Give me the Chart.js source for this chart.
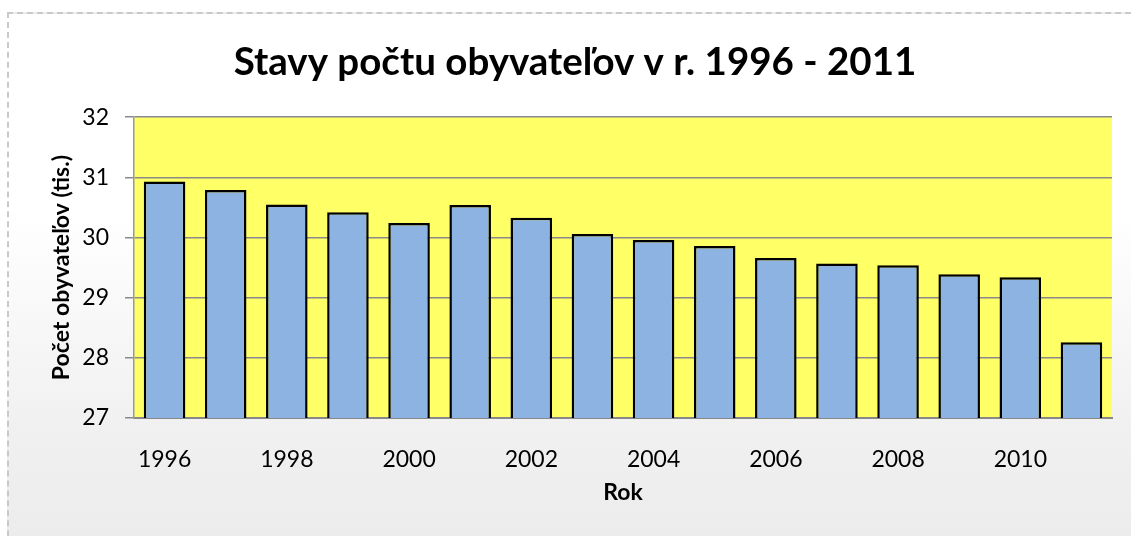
<!DOCTYPE html>
<html>
<head>
<meta charset="utf-8">
<script src="https://cdn.jsdelivr.net/npm/chart.js@4/dist/chart.umd.min.js"></script>
<style>
  html, body { margin: 0; padding: 0; width: 1131px; height: 536px; overflow: hidden; background: #fff; }
  #frame {
    position: absolute; left: 7px; top: 12px; width: 1200px; height: 600px;
    border: 2px dashed #c9c9c9;
    background: linear-gradient(to bottom, #ffffff 0px, #ffffff 200px, #f0f0f0 420px, #ececec 524px);
  }
  #wrap { position: absolute; left: 0; top: 0; width: 1131px; height: 536px; }
</style>
</head>
<body>
<div id="frame"></div>
<div id="wrap"><canvas id="popChart" width="1131" height="536"></canvas></div>
<script>
/* =========================
   DATA
========================= */
const years = ["1996", "1997", "1998", "1999", "2000", "2001", "2002", "2003",
               "2004", "2005", "2006", "2007", "2008", "2009", "2010", "2011"];
const population = [30.93, 30.79, 30.55, 30.42, 30.24, 30.54, 30.33, 30.06,
                    29.96, 29.86, 29.66, 29.57, 29.54, 29.39, 29.34, 28.26];
const yTicks = [27, 28, 29, 30, 31, 32];

const FONT = "Lato, 'Liberation Sans', sans-serif";

/* =========================
   PLOT AREA BACKGROUND
========================= */
const plotBg = {
  id: "plotBg",
  beforeDraw(chart) {
    const { ctx, chartArea: a } = chart;
    ctx.save();
    ctx.fillStyle = "#ffff66";
    ctx.fillRect(a.left, a.top, a.right - a.left, a.bottom - a.top);
    ctx.restore();
  }
};

/* =========================
   CHART
========================= */
new Chart(document.getElementById("popChart"), {
  type: "bar",
  data: {
    labels: years,
    datasets: [{
      data: population,
      backgroundColor: "#8db3e2",
      borderColor: "#000000",
      borderWidth: 2.5,
      barPercentage: 0.68,
      categoryPercentage: 1
    }]
  },
  options: {
    responsive: false,
    animation: false,
    layout: { padding: { left: 38, right: 19, top: 0, bottom: 0 } },
    plugins: {
      legend: { display: false },
      tooltip: { enabled: false },
      title: {
        display: true,
        text: "Stavy počtu obyvateľov v r. 1996 - 2011",
        color: "#000",
        font: { family: FONT, size: 38.5, weight: "bold", lineHeight: 1.2 },
        padding: { top: 39, bottom: 32 }
      }
    },
    scales: {
      x: {
        afterFit(s) { s.height = 118; },
        grid: { display: false },
        border: { display: true, color: "#888888", width: 2 },
        ticks: {
          autoSkip: false,
          maxRotation: 0,
          padding: 20,
          color: "#000",
          font: { family: FONT, size: 23 },
          callback(v, i) { return i % 2 === 0 ? years[i] : ""; }
        },
        title: {
          display: true,
          text: "Rok",
          color: "#000",
          font: { family: FONT, size: 23, weight: "bold", lineHeight: 1.2 },
          padding: { top: 0, bottom: 30 }
        }
      },
      y: {
        min: 27,
        max: 32,
        afterFit(s) { s.width = 96; },
        afterBuildTicks(s) { s.ticks = yTicks.map(v => ({ value: v })); },
        grid: { color: "#8a8a8a", lineWidth: 1.5, tickLength: 9, drawTicks: true },
        border: { display: true, color: "#999999", width: 1.5 },
        ticks: {
          padding: 16,
          color: "#000",
          font: { family: FONT, size: 23 }
        },
        title: {
          display: true,
          text: "Počet obyvateľov (tis.)",
          color: "#000",
          font: { family: FONT, size: 23, weight: "bold", lineHeight: 1.2 },
          padding: { top: 10, bottom: 0 }
        }
      }
    }
  },
  plugins: [plotBg]
});
</script>
</body>
</html>
